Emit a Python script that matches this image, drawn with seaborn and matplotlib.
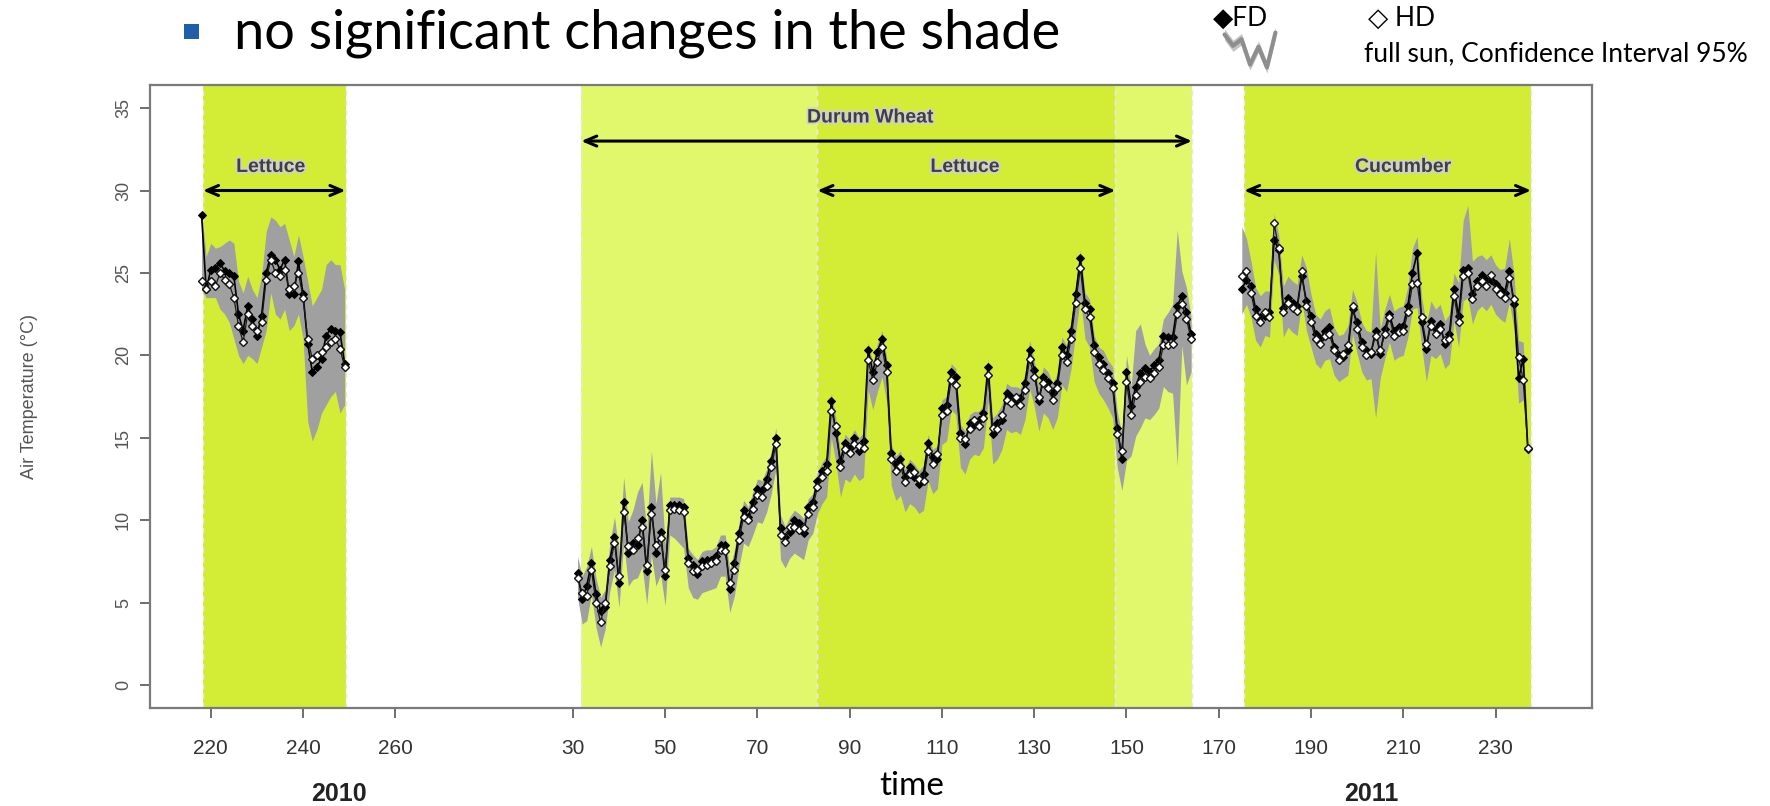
import matplotlib
matplotlib.use("Agg")
import matplotlib.pyplot as plt
import matplotlib.patheffects as pe
from matplotlib.patches import Rectangle
import numpy as np
import pandas as pd
import seaborn as sns

# ---- data (air temperature, degC) ----
# 2010 block, day of year 218..249
days_2010 = list(range(218, 250))
fd_2010 = [28.5, 24.0, 25.2, 25.3, 25.6, 25.1, 25.0, 24.8, 22.5, 21.5,
           23.0, 22.2, 21.2, 22.4, 25.0, 26.1, 25.8, 25.2, 25.8, 23.7,
           23.7, 25.7, 23.7, 20.7, 19.0, 19.3, 19.8, 21.2, 21.6, 21.5,
           21.4, 19.5]
hd_2010 = [24.5, 24.0, 24.5, 24.2, 25.0, 24.6, 24.3, 23.5, 21.8, 20.8,
           22.5, 21.8, 21.5, 22.0, 24.6, 25.8, 25.0, 24.8, 25.2, 24.0,
           24.2, 25.0, 23.5, 21.0, 19.8, 20.0, 20.2, 20.5, 20.8, 21.0,
           20.4, 19.3]
# confidence band: extension above the higher / below the lower series
ci_up_2010 = [0.3, 2.0, 1.6, 1.2, 1.0, 1.7, 2.0, 2.0, 2.0, 2.3,
              1.8, 1.8, 2.0, 2.4, 2.5, 2.3, 2.4, 2.6, 2.2, 3.0,
              1.8, 1.6, 2.3, 3.5, 3.2, 3.5, 3.8, 4.3, 4.2, 4.0,
              4.1, 4.5]
ci_dn_2010 = [0.5, 0.5, 1.0, 0.7, 2.2, 2.1, 2.3, 2.5, 1.8, 1.3,
              2.5, 2.0, 1.7, 1.5, 3.1, 2.0, 2.5, 2.6, 2.4, 2.2,
              1.9, 2.5, 2.5, 4.7, 4.2, 3.8, 3.3, 3.5, 3.3, 3.2,
              3.9, 2.3]

# 2011 spring block (durum wheat / lettuce), day 31..164
days_spring = list(range(31, 165))
fd_spring = [6.8, 5.2, 6.0, 7.4, 5.5, 4.5, 4.7, 7.6, 9.0, 6.2,
             11.1, 8.0, 8.6, 8.5, 10.0, 6.9, 10.8, 8.0, 9.3, 6.6,
             10.9, 10.9, 10.9, 10.8, 7.7, 7.3, 6.7, 7.5, 7.6, 7.6,
             7.8, 8.5, 8.5, 5.8, 7.4, 9.2, 10.6, 10.2, 11.1, 11.9,
             11.8, 12.5, 13.6, 15.0, 9.5, 9.0, 9.3, 10.0, 9.8, 9.2,
             10.8, 11.1, 12.4, 13.0, 13.4, 17.2, 15.3, 13.6, 14.7, 14.4,
             15.0, 14.2, 14.8, 20.3, 19.0, 20.2, 21.0, 19.4, 14.1, 13.4,
             13.7, 12.6, 13.2, 12.6, 12.2, 12.8, 14.7, 13.8, 13.7, 16.8,
             17.0, 19.0, 18.7, 15.3, 14.6, 15.9, 15.8, 16.1, 16.5, 19.3,
             15.2, 15.9, 16.1, 17.7, 17.5, 17.2, 17.4, 18.3, 20.3, 19.1,
             17.2, 18.7, 18.4, 17.7, 18.3, 20.5, 20.0, 21.5, 23.7, 25.9,
             23.2, 22.8, 20.6, 19.9, 19.5, 18.9, 18.3, 15.6, 13.7, 19.0,
             16.9, 18.1, 18.9, 19.2, 19.0, 19.4, 19.7, 21.2, 21.1, 21.1,
             23.0, 23.6, 22.6, 21.3]
hd_spring = [6.5, 5.6, 5.4, 7.0, 5.0, 3.8, 5.0, 7.2, 8.6, 6.6,
             10.5, 8.4, 8.2, 8.9, 9.6, 7.3, 10.4, 8.5, 8.9, 7.0,
             10.6, 10.7, 10.6, 10.5, 7.4, 6.9, 7.0, 7.2, 7.3, 7.4,
             7.5, 8.2, 8.1, 6.2, 7.0, 8.8, 10.2, 10.0, 10.7, 11.5,
             11.4, 12.1, 13.2, 14.6, 9.1, 8.7, 9.6, 9.6, 9.4, 9.5,
             10.4, 10.8, 12.0, 12.6, 13.0, 16.6, 15.7, 13.2, 14.3, 14.1,
             14.6, 14.5, 14.4, 19.7, 18.5, 19.6, 20.5, 19.0, 13.7, 13.0,
             13.3, 12.3, 12.8, 12.9, 12.5, 12.4, 14.2, 13.4, 14.0, 16.4,
             16.6, 18.5, 18.2, 15.0, 14.9, 15.5, 16.1, 15.7, 16.2, 18.8,
             15.6, 15.5, 16.4, 17.3, 17.1, 17.5, 17.0, 17.9, 19.8, 18.7,
             17.5, 18.3, 18.0, 17.3, 18.0, 20.0, 19.6, 21.0, 23.2, 25.3,
             22.8, 22.3, 20.2, 19.5, 19.1, 18.6, 18.0, 15.2, 14.2, 18.4,
             16.4, 17.6, 18.4, 18.7, 18.6, 18.9, 19.3, 20.6, 20.6, 20.7,
             22.5, 23.1, 22.2, 21.0]
ci_up_spring = [1.0, 1.0, 1.2, 1.0, 1.0, 0.8, 0.8, 1.0, 1.2, 1.5,
                1.5, 1.5, 2.0, 2.8, 2.3, 2.0, 3.4, 2.5, 3.6, 1.5,
                0.5, 0.5, 0.5, 0.5, 0.6, 0.6, 0.6, 0.6, 0.6, 0.6,
                0.6, 0.6, 0.6, 0.8, 0.8, 0.6, 0.6, 0.6, 0.6, 0.6,
                0.6, 0.6, 0.6, 0.6, 0.8, 0.6, 0.6, 0.6, 0.6, 0.6,
                0.5, 0.5, 0.5, 0.5, 0.5, 0.5, 0.5, 0.5, 0.5, 0.5,
                0.5, 0.5, 0.5, 0.5, 0.5, 0.5, 0.5, 0.5, 0.5, 0.5,
                0.5, 0.5, 0.5, 0.5, 0.5, 0.5, 0.5, 0.5, 0.5, 0.5,
                0.5, 0.5, 0.5, 0.5, 0.5, 0.5, 0.5, 0.5, 0.5, 0.5,
                0.6, 0.6, 0.6, 0.6, 0.6, 0.6, 0.6, 0.6, 0.6, 0.6,
                0.6, 0.6, 0.6, 0.6, 0.6, 0.6, 0.6, 0.6, 0.6, 0.5,
                0.6, 0.6, 0.6, 0.6, 0.8, 0.8, 1.0, 1.0, 1.0, 1.0,
                1.2, 3.4, 3.0, 1.5, 1.0, 1.0, 1.0, 1.0, 1.5, 2.0,
                4.6, 1.5, 1.5, 1.0]
ci_dn_spring = [1.2, 1.5, 1.5, 1.5, 1.5, 1.5, 1.3, 1.5, 1.6, 1.5,
                1.8, 2.0, 1.8, 2.0, 2.4, 2.0, 2.5, 2.0, 2.2, 1.8,
                1.5, 1.8, 2.0, 2.2, 1.5, 1.6, 1.5, 1.6, 1.6, 1.6,
                1.6, 1.6, 1.5, 1.4, 1.6, 1.6, 1.6, 1.6, 1.6, 1.6,
                1.6, 1.6, 1.6, 1.5, 1.5, 1.6, 1.6, 1.6, 1.6, 1.6,
                1.6, 1.6, 1.6, 1.6, 1.6, 1.6, 1.8, 1.8, 1.8, 1.8,
                1.8, 1.8, 1.8, 1.8, 1.8, 1.8, 1.8, 1.8, 1.6, 1.8,
                1.8, 1.8, 1.8, 1.8, 1.8, 1.8, 1.8, 1.8, 1.8, 1.8,
                1.8, 1.8, 1.8, 1.8, 1.8, 1.8, 1.8, 1.8, 1.8, 1.6,
                1.8, 1.8, 1.8, 1.8, 1.8, 1.8, 1.8, 1.8, 1.8, 1.8,
                1.8, 1.8, 1.8, 1.8, 1.8, 1.8, 1.8, 1.8, 1.8, 1.8,
                1.8, 1.8, 1.8, 1.8, 1.8, 1.8, 1.8, 2.0, 1.9, 4.8,
                2.5, 2.5, 2.8, 2.5, 2.5, 2.5, 2.5, 2.5, 2.8, 3.0,
                9.2, 2.5, 4.0, 2.0]

# 2011 summer block (cucumber), day 175..237
days_summer = list(range(175, 238))
fd_summer = [24.0, 24.6, 24.2, 22.8, 22.3, 22.4, 22.6, 27.0, 26.4, 22.9,
             23.5, 23.2, 23.0, 24.8, 23.3, 22.4, 21.3, 21.0, 21.5, 21.7,
             20.5, 20.0, 19.9, 20.3, 22.8, 22.0, 20.8, 20.3, 20.1, 21.5,
             20.1, 21.6, 22.5, 21.5, 21.7, 21.8, 23.0, 25.0, 26.2, 22.0,
             20.4, 22.1, 21.6, 21.9, 20.7, 21.3, 24.0, 22.4, 25.2, 25.3,
             23.7, 24.5, 24.9, 24.6, 24.6, 24.3, 24.0, 23.8, 25.1, 23.1,
             18.6, 19.8, 14.3]
hd_summer = [24.8, 25.1, 23.8, 22.4, 22.0, 22.6, 22.3, 28.0, 26.5, 22.6,
             23.2, 22.9, 22.7, 25.1, 23.0, 22.0, 21.0, 20.7, 21.2, 21.3,
             20.3, 19.7, 20.1, 20.6, 23.0, 21.6, 20.5, 20.0, 20.2, 21.2,
             20.3, 21.3, 22.3, 21.2, 21.4, 21.5, 22.6, 24.3, 24.4, 22.3,
             20.7, 21.8, 21.3, 21.6, 20.9, 21.0, 23.6, 22.0, 24.8, 25.0,
             23.4, 24.2, 24.5, 24.2, 24.9, 24.0, 23.7, 23.5, 24.7, 23.4,
             19.9, 18.5, 14.4]
ci_up_summer = [3.0, 2.0, 1.5, 1.3, 1.3, 1.3, 1.3, 0.6, 0.8, 1.3,
                1.3, 1.3, 1.3, 1.0, 2.0, 1.3, 1.2, 1.2, 1.2, 1.2,
                1.2, 1.2, 1.2, 1.2, 1.0, 1.2, 1.2, 1.2, 1.2, 4.8,
                1.3, 1.2, 1.2, 1.2, 1.2, 1.2, 1.2, 1.5, 1.0, 1.2,
                1.2, 1.2, 1.2, 1.2, 1.2, 1.2, 1.0, 2.0, 3.0, 3.8,
                2.0, 1.5, 1.2, 1.2, 1.2, 1.2, 1.2, 1.5, 2.0, 1.5,
                1.0, 1.0, 0.5]
ci_dn_summer = [1.5, 1.5, 1.5, 1.5, 1.5, 1.2, 1.2, 1.2, 1.5, 1.5,
                1.5, 1.5, 1.5, 1.5, 1.5, 1.5, 1.5, 1.5, 1.5, 1.5,
                1.5, 1.3, 1.3, 1.5, 1.5, 1.5, 1.5, 1.5, 1.5, 5.0,
                1.5, 1.5, 1.5, 1.5, 1.5, 1.5, 1.5, 1.5, 1.5, 1.5,
                2.0, 1.8, 1.5, 1.5, 1.5, 1.5, 1.5, 1.5, 1.5, 1.5,
                1.5, 1.5, 1.5, 1.5, 1.5, 1.5, 1.5, 1.5, 1.5, 1.5,
                1.5, 1.2, 0.5]

# crop periods: (year, start day, end day, colour)
periods = [(2010, 218.3, 249.2, "dark"),
           (2011, 31.8, 83.0, "light"),
           (2011, 83.0, 147.6, "dark"),
           (2011, 147.6, 164.2, "light"),
           (2011, 175.5, 237.7, "dark")]
# crop arrows: (label, year, start, end, arrow level, label day, label level)
crops = [("Lettuce", 2010, 218.3, 249.2, 30.0, 233.0, 31.4),
         ("Durum Wheat", 2011, 31.8, 164.2, 33.0, 94.5, 34.4),
         ("Lettuce", 2011, 83.0, 147.6, 30.0, 115.0, 31.4),
         ("Cucumber", 2011, 175.5, 237.7, 30.0, 210.0, 31.4)]

ticks_2010 = [220, 240, 260]
ticks_2011 = [30, 50, 70, 90, 110, 130, 150, 170, 190, 210, 230]
y_ticks = [0, 5, 10, 15, 20, 25, 30, 35]
legend_wave = [3.6, 2.4, 3.1, 0.4, 2.3, 0.1, 3.8]

# 2011 days are drawn right after the 2010 block on one axis
YEAR_SHIFT = 268.5


def to_axis(day, year):
    return np.asarray(day, dtype=float) + (YEAR_SHIFT if year == 2011 else 0.0)


blocks = [(2010, days_2010, fd_2010, hd_2010, ci_up_2010, ci_dn_2010),
          (2011, days_spring, fd_spring, hd_spring, ci_up_spring, ci_dn_spring),
          (2011, days_summer, fd_summer, hd_summer, ci_up_summer, ci_dn_summer)]
frames = []
for k, (year, days, fd, hd, up, dn) in enumerate(blocks):
    d = pd.DataFrame({"t": to_axis(days, year), "FD": fd, "HD": hd})
    d["hi"] = d[["FD", "HD"]].max(axis=1) + np.asarray(up)
    d["lo"] = d[["FD", "HD"]].min(axis=1) - np.asarray(dn)
    d["block"] = k
    frames.append(d)
df = pd.concat(frames, ignore_index=True)

sns.set_theme(style="white")
plt.rcParams["font.family"] = ["Lato", "DejaVu Sans"]

DARK = "#d3ec35"
LIGHT = "#e1f76c"
ARIAL = ["Liberation Sans", "DejaVu Sans"]
NARROW = ["Liberation Sans Narrow", "Liberation Sans"]

fig = plt.figure(figsize=(17.7, 8.06), dpi=100)
ax = fig.add_axes([0.0847, 0.1216, 0.8147, 0.7729])

for year, a, b, shade in periods:
    ax.axvspan(to_axis(a, year), to_axis(b, year), color=DARK if shade == "dark" else LIGHT,
               lw=0, zorder=0)
    for edge in (a, b):
        ax.axvline(to_axis(edge, year), color="#e8e8e8", lw=1.0, ls=(0, (4, 3)), zorder=1)

for k, d in df.groupby("block"):
    ax.fill_between(d["t"], d["lo"], d["hi"], color="#a0a0a0", lw=0, zorder=2)
    sns.lineplot(data=d, x="t", y="FD", ax=ax, color="black", lw=1.2, marker="D",
                 markersize=4.5, markerfacecolor="black", markeredgecolor="black",
                 errorbar=None, zorder=4)
    sns.lineplot(data=d, x="t", y="HD", ax=ax, color="#1a1a1a", lw=0.9, marker="D",
                 markersize=4.0, markerfacecolor="white", markeredgecolor="#111111",
                 markeredgewidth=1.0, errorbar=None, zorder=5)

label_fx = [pe.withStroke(linewidth=2.5, foreground="#d0d0d0")]
for name, year, a, b, y_arrow, x_label, y_text in crops:
    x0, x1 = to_axis(a, year), to_axis(b, year)
    ax.annotate("", xy=(x1, y_arrow), xytext=(x0, y_arrow),
                arrowprops=dict(arrowstyle="<->,head_length=0.7,head_width=0.3",
                                color="black", lw=2.2, shrinkA=0, shrinkB=0), zorder=6)
    ax.text(to_axis(x_label, year), y_text, name, ha="center", va="center", fontsize=14,
            fontweight="bold", family=ARIAL, color="#404040",
            path_effects=label_fx, zorder=6)

xt = list(to_axis(ticks_2010, 2010)) + list(to_axis(ticks_2011, 2011))
ax.set_xticks(xt)
ax.set_xticklabels([str(v) for v in ticks_2010 + ticks_2011], fontsize=15,
                   family=NARROW, color="#333333")
ax.set_yticks(y_ticks)
ax.set_yticklabels([str(v) for v in y_ticks], rotation=90, va="center", fontsize=13,
                   family=ARIAL, color="#555555")
ax.tick_params(axis="both", direction="out", length=7, width=1.2, color="#555555",
               bottom=True, left=True, pad=6)
ax.tick_params(axis="x", pad=15)
ax.set_xlim(206.8, 519.4)
ax.set_ylim(-1.4, 36.4)
ax.set_xlabel("")
ax.set_ylabel("Air Temperature (\u00b0C)", fontsize=13, color="#555555",
              family=ARIAL, labelpad=55)
for s in ax.spines.values():
    s.set_color("#7a7a7a")
    s.set_linewidth(1.6)

# year and axis labels under the plot
fig.text(339 / 1770, 1 - 794 / 806, "2010", ha="center", va="center", fontsize=18,
         fontweight="bold", family=NARROW, color="#222222")
fig.text(1371 / 1770, 1 - 794 / 806, "2011", ha="center", va="center", fontsize=18,
         fontweight="bold", family=NARROW, color="#222222")
fig.text(912 / 1770, 1 - 786 / 806, "time", ha="center", va="center", fontsize=24,
         color="black")

# slide title with bullet
fig.patches.append(Rectangle((184 / 1770, 1 - 39 / 806), 15 / 1770, 15 / 806,
                             transform=fig.transFigure, color="#1f5ea8", lw=0))
fig.text(234 / 1770, 1 - 33 / 806, "no significant changes in the shade", ha="left",
         va="center", fontsize=39, color="black")

# legend in the corner
fig.text(1213 / 1770, 1 - 18 / 806, "\u25c6FD", ha="left", va="center", fontsize=19,
         color="black")
fig.text(1368 / 1770, 1 - 18 / 806, "\u25c7 HD", ha="left", va="center", fontsize=19,
         color="black")
fig.text(1364 / 1770, 1 - 54 / 806, "full sun, Confidence Interval 95%", ha="left",
         va="center", fontsize=19, color="black")
icon = fig.add_axes([1222 / 1770, 1 - 74 / 806, 56 / 1770, 48 / 806])
wave = np.asarray(legend_wave)
ix = np.arange(len(wave))
icon.fill_between(ix, wave - 0.6, wave + 0.6, color="#c4c4c4", lw=0)
icon.plot(ix, wave, color="#8e8e8e", lw=3)
icon.set_xlim(-0.3, len(wave) - 0.7)
icon.set_ylim(-0.6, 4.5)
icon.axis("off")

fig.savefig("out.png", dpi=100)
